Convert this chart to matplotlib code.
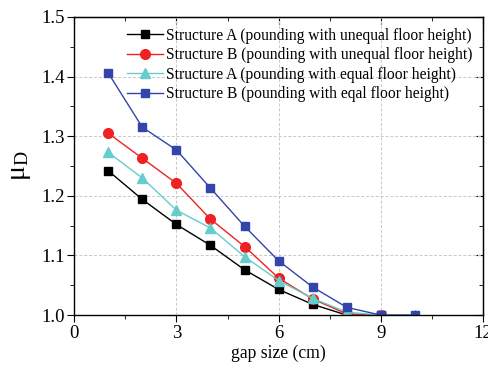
import matplotlib.pyplot as plt
from matplotlib.ticker import MultipleLocator

plt.rcParams['font.family'] = ['Liberation Serif', 'DejaVu Serif']

gap = [1, 2, 3, 4, 5, 6, 7, 8, 9, 10]
a_unequal = [1.242, 1.194, 1.152, 1.117, 1.076, 1.043, 1.018, 1.000, 1.000]
b_unequal = [1.305, 1.263, 1.221, 1.161, 1.115, 1.062, 1.027, 1.002, 1.000]
a_equal = [1.273, 1.230, 1.176, 1.146, 1.098, 1.058, 1.028, 1.005, 1.000, 1.000]
b_equal = [1.406, 1.315, 1.277, 1.213, 1.149, 1.091, 1.047, 1.013, 1.000, 1.000]

labels = ['Structure A (pounding with unequal floor height)',
          'Structure B (pounding with unequal floor height)',
          'Structure A (pounding with equal floor height)',
          'Structure B (pounding with eqal floor height)']

fig = plt.figure(figsize=(4.88, 3.69), dpi=100)
ax = fig.add_axes([0.152, 0.146, 0.838, 0.808])

ax.plot(gap[:len(a_unequal)], a_unequal, color='black', marker='s', ms=6, lw=1, label=labels[0])
ax.plot(gap[:len(b_unequal)], b_unequal, color='#ee2222', marker='o', ms=7, lw=1, label=labels[1])
ax.plot(gap, a_equal, color='#66cccc', marker='^', ms=7, lw=1, label=labels[2])
ax.plot(gap, b_equal, color='#3344aa', marker='s', ms=6, lw=1, label=labels[3])

ax.set_xlim(0, 12)
ax.set_ylim(1.0, 1.5)
ax.xaxis.set_major_locator(MultipleLocator(3))
ax.xaxis.set_minor_locator(MultipleLocator(1.5))
ax.yaxis.set_major_locator(MultipleLocator(0.1))
ax.yaxis.set_minor_locator(MultipleLocator(0.05))
ax.yaxis.set_major_formatter(plt.FormatStrFormatter('%.1f'))
ax.tick_params(which='both', direction='out', labelsize=13.5, pad=2)
ax.tick_params(which='major', length=5)
ax.tick_params(which='minor', length=3)
# inward ticks on the top and right sides
ax2 = ax.secondary_xaxis('top')
ax2.xaxis.set_major_locator(MultipleLocator(3))
ax2.xaxis.set_minor_locator(MultipleLocator(1.5))
ax2.tick_params(which='both', direction='in', labeltop=False)
ax2.tick_params(which='major', length=5)
ax2.tick_params(which='minor', length=3)
ay2 = ax.secondary_yaxis('right')
ay2.yaxis.set_major_locator(MultipleLocator(0.1))
ay2.yaxis.set_minor_locator(MultipleLocator(0.05))
ay2.tick_params(which='both', direction='in', labelright=False)
ay2.tick_params(which='major', length=5)
ay2.tick_params(which='minor', length=3)

ax.grid(True, which='major', linestyle=(0, (3, 2)), color='#c8c8c8', lw=0.7)
for s in ax.spines.values():
    s.set_linewidth(1)

ax.set_xlabel('gap size (cm)', fontsize=12.7, labelpad=2)
ax.set_ylabel(r'$\mathregular{\mu_D}$', fontsize=20, labelpad=6)

ax.legend(loc='upper right', frameon=False, fontsize=11.2, handlelength=2.3,
          handletextpad=0.2, labelspacing=0.22, borderaxespad=0.3, borderpad=0.4)

fig.savefig('out.png', dpi=100)
